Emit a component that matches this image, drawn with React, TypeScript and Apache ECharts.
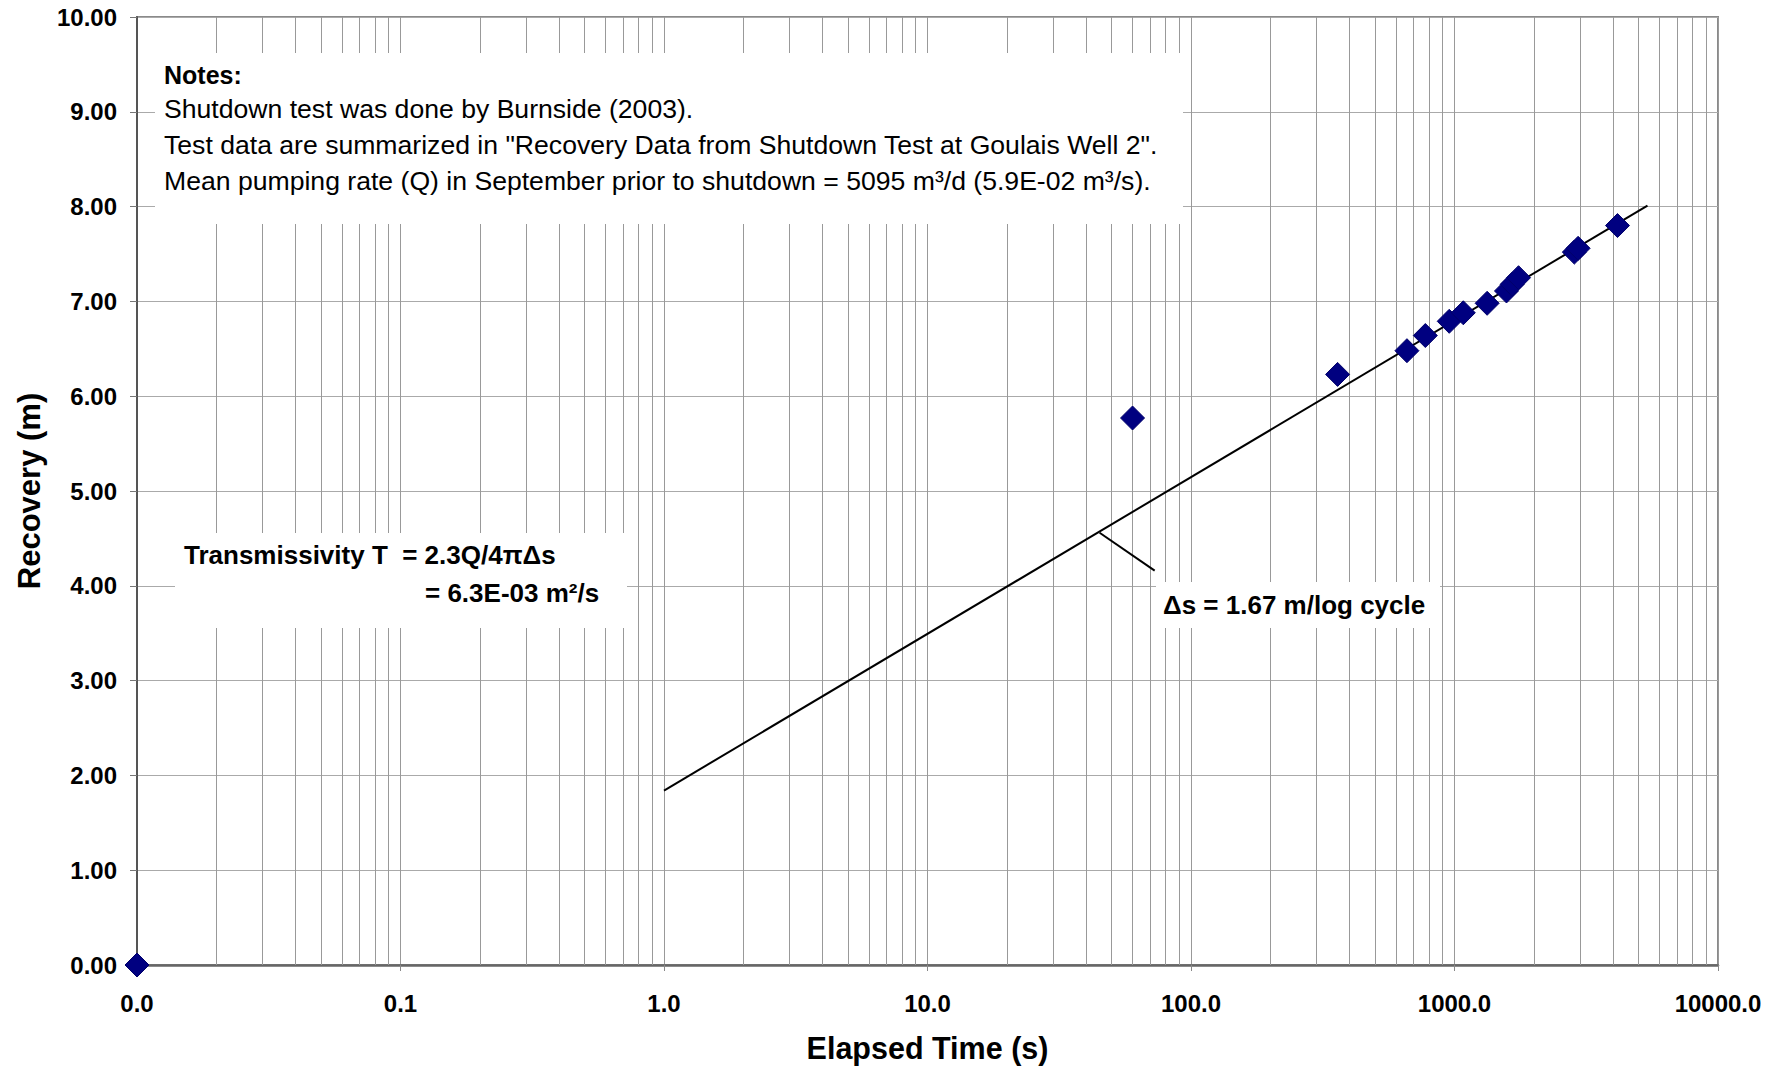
import React, { useEffect, useRef } from "react";
import * as echarts from "echarts";

// ---- data ----
const elapsedTime = [0.01, 60, 360, 660, 775, 955, 1080, 1330, 1575, 1655, 1750, 2850, 2945, 4155];
const recovery = [0.0, 5.77, 6.23, 6.48, 6.64, 6.79, 6.88, 6.98, 7.11, 7.18, 7.25, 7.52, 7.56, 7.8];

const fitTime = [1, 5400];
const fitRecovery = [1.84, 8.01];

const leaderTime = [45, 72.8];
const leaderRecovery = [4.56, 4.16];

const decades = [0.01, 0.1, 1, 10, 100, 1000];
const minorMultipliers = [2, 3, 4, 5, 6, 7, 8, 9];

const notesLines = [
  "Shutdown test was done by Burnside (2003).",
  'Test data are summarized in "Recovery Data from Shutdown Test at Goulais Well 2".',
  "Mean pumping rate (Q) in September prior to shutdown = 5095 m³/d (5.9E-02 m³/s).",
];

const FONT = '"Liberation Sans", Arial, Helvetica, sans-serif';
const TOPZ = 100;

export default function App() {
  const ref = useRef<HTMLDivElement>(null);

  useEffect(() => {
    document.body.style.margin = "0";
    if (!ref.current) return;
    const chart = echarts.init(ref.current, undefined, { renderer: "svg" });

    const minorGrid: number[] = [];
    decades.forEach((d) => minorMultipliers.forEach((m) => minorGrid.push(d * m)));

    const txt = (x: number, y: number, text: string, font: string) => ({
      type: "text",
      x,
      y,
      z: TOPZ + 1,
      style: { text, fill: "#000", font, verticalAlign: "middle" },
    });
    const box = (x: number, y: number, width: number, height: number) => ({
      type: "rect",
      z: TOPZ,
      shape: { x, y, width, height },
      style: { fill: "#fff", stroke: null },
    });

    const option: any = {
      animation: false,
      backgroundColor: "#ffffff",
      textStyle: { fontFamily: FONT },
      grid: {
        left: 137,
        right: 63,
        top: 17,
        bottom: 105,
        show: true,
        borderColor: "#8a8a8a",
        borderWidth: 2,
        backgroundColor: "transparent",
      },
      xAxis: {
        type: "log",
        logBase: 10,
        min: 0.01,
        max: 10000,
        name: "Elapsed Time (s)",
        nameLocation: "middle",
        nameGap: 67,
        nameTextStyle: { fontSize: 30.5, fontWeight: "bold", color: "#000", fontFamily: FONT },
        axisLine: { show: true, lineStyle: { color: "#666", width: 2.5 } },
        axisTick: { show: true, length: 6, lineStyle: { color: "#888" } },
        axisLabel: {
          fontSize: 24,
          fontWeight: "bold",
          color: "#000",
          margin: 26,
          fontFamily: FONT,
          formatter: (v: number) => v.toFixed(1),
        },
        splitLine: { show: true, lineStyle: { color: "#999", width: 1 } },
        minorTick: { show: false },
        minorSplitLine: { show: false },
      },
      yAxis: {
        type: "value",
        min: 0,
        max: 10,
        interval: 1,
        name: "Recovery (m)",
        nameLocation: "middle",
        nameRotate: 90,
        nameGap: 92,
        nameTextStyle: { fontSize: 31, fontWeight: "bold", color: "#000", fontFamily: FONT },
        axisLine: { show: true, lineStyle: { color: "#555", width: 2 } },
        axisTick: { show: true, length: 7, lineStyle: { color: "#777" } },
        axisLabel: {
          fontSize: 24,
          fontWeight: "bold",
          color: "#000",
          margin: 20,
          fontFamily: FONT,
          formatter: (v: number) => v.toFixed(2),
        },
        splitLine: { show: true, lineStyle: { color: "#aaa", width: 1 } },
      },
      series: [
        {
          name: "Fit",
          type: "line",
          data: fitTime.map((t, i) => [t, fitRecovery[i]]),
          showSymbol: false,
          symbol: "none",
          lineStyle: { color: "#000", width: 2 },
          z: 3,
          markLine: {
            silent: true,
            symbol: ["none", "none"],
            label: { show: false },
            lineStyle: { color: "#999", width: 1, type: "solid" },
            data: minorGrid.map((v) => ({ xAxis: v })),
            z: 1,
          },
        },
        {
          name: "Leader",
          type: "line",
          data: leaderTime.map((t, i) => [t, leaderRecovery[i]]),
          showSymbol: false,
          symbol: "none",
          lineStyle: { color: "#000", width: 2 },
          z: 3,
        },
        {
          name: "Recovery",
          type: "scatter",
          data: elapsedTime.map((t, i) => [t, recovery[i]]),
          symbol: "diamond",
          symbolSize: 24,
          itemStyle: { color: "#000080", borderColor: "#00006a", borderWidth: 1, opacity: 1 },
          clip: false,
          z: 5,
        },
      ],
      graphic: [
        box(155, 53, 1028, 171),
        txt(164, 75, "Notes:", `bold 25px ${FONT}`),
        ...notesLines.map((t, i) => txt(164, 109 + i * 36, t, `26.6px ${FONT}`)),
        box(175, 533, 452, 95),
        txt(184, 555, "Transmissivity T  = 2.3Q/4πΔs", `bold 26px ${FONT}`),
        txt(425, 593, "= 6.3E-03 m²/s", `bold 26px ${FONT}`),
        box(1156, 582, 284, 46),
        txt(1163, 605, "Δs = 1.67 m/log cycle", `bold 26px ${FONT}`),
      ],
    };

    chart.setOption(option);
    return () => chart.dispose();
  }, []);

  return (
    <div
      ref={ref}
      style={{ position: "absolute", left: 0, top: 0, width: 1781, height: 1070, background: "#fff" }}
    />
  );
}
